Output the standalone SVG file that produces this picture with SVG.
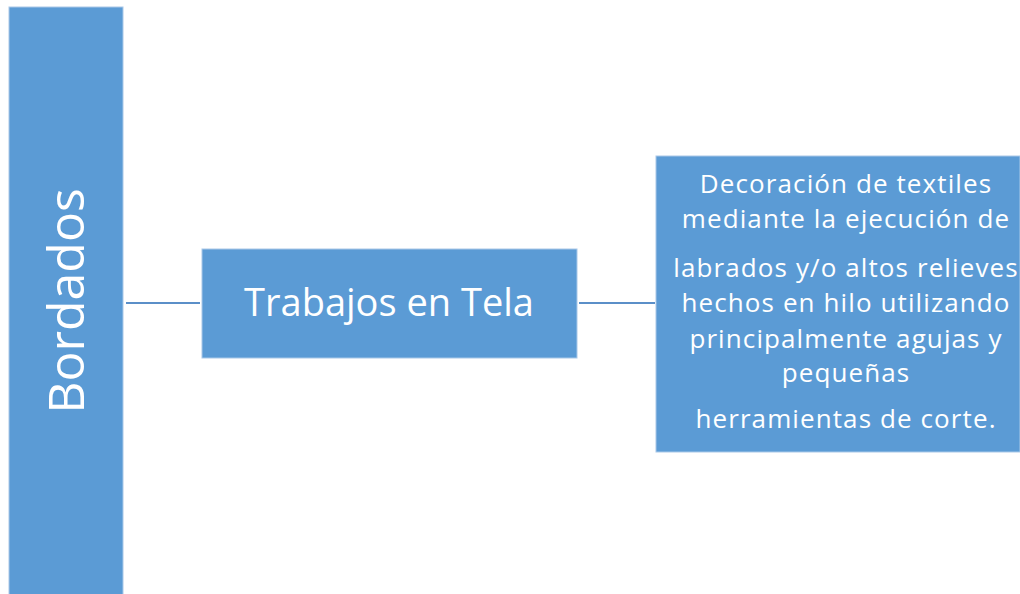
<svg xmlns="http://www.w3.org/2000/svg" width="1020" height="594" viewBox="0 0 1020 594">
<style>
.box{fill:#5b9bd5;stroke:#a9c8e8;stroke-width:1}
.conn{stroke:#5b8fc8;stroke-width:2;fill:none}
.t{fill:#ffffff;font-family:"Open Sans","Liberation Sans",sans-serif;text-anchor:middle}
.d{font-size:26px;letter-spacing:1.1px}
</style>
<rect width="1020" height="594" fill="#ffffff"/>
<g id="connectors">
<line class="conn" x1="126" y1="303" x2="200" y2="303"/>
<line class="conn" x1="579" y1="303" x2="655" y2="303"/>
</g>
<g id="bordados">
<rect class="box" x="9" y="7" width="114" height="590"/>
<text class="t" font-size="50" transform="translate(84,301) rotate(-90)" x="0" y="0">Bordados</text>
</g>
<g id="trabajos">
<rect class="box" x="202" y="249" width="375" height="109"/>
<text class="t" font-size="38" x="389" y="316">Trabajos en Tela</text>
</g>
<g id="descripcion">
<rect class="box" x="656" y="156" width="364" height="296"/>
<text class="t d" x="846" y="193">Decoración  de textiles</text>
<text class="t d" x="846" y="228">mediante la ejecución  de</text>
<text class="t d" x="846" y="277">labrados y/o altos relieves</text>
<text class="t d" x="846" y="312">hechos en hilo utilizando</text>
<text class="t d" x="846" y="348">principalmente  agujas y</text>
<text class="t d" x="846" y="382">pequeñas</text>
<text class="t d" x="846" y="428">herramientas de corte.</text>
</g>
</svg>
